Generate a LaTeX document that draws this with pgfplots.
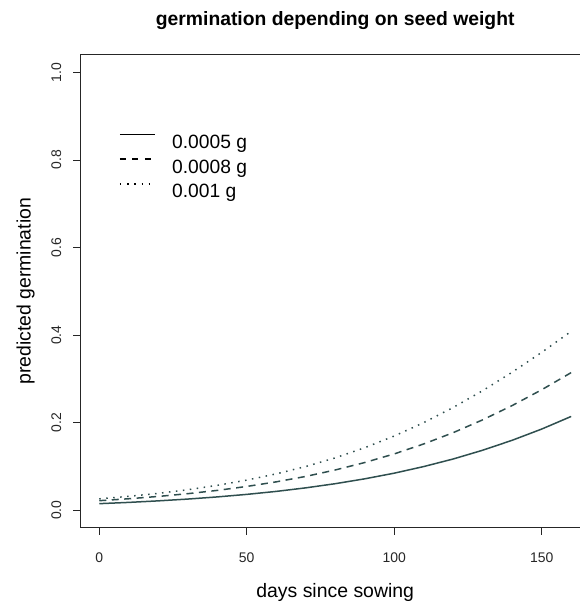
\documentclass[border=0pt]{standalone}
\usepackage{fontspec}
\setmainfont{Liberation Sans}
\usepackage{pgfplots}
\usepackage{pgfplotstable}
\pgfplotsset{compat=1.18}
\definecolor{dsg}{HTML}{2F4F4F}

\pgfplotstableread{
x y
0 0.0151
10 0.0180
20 0.0215
30 0.0256
40 0.0305
50 0.0363
60 0.0431
70 0.0512
80 0.0607
90 0.0718
100 0.0847
110 0.0998
120 0.1171
130 0.1371
140 0.1598
150 0.1854
160 0.2142
}\lowW

\pgfplotstableread{
x y
0 0.0219
10 0.0263
20 0.0316
30 0.0379
40 0.0454
50 0.0544
60 0.0649
70 0.0773
80 0.0920
90 0.1090
100 0.1287
110 0.1514
120 0.1772
130 0.2065
140 0.2391
150 0.2751
160 0.3143
}\midW

\pgfplotstableread{
x y
0 0.0261
10 0.0318
20 0.0387
30 0.0469
40 0.0569
50 0.0689
60 0.0831
70 0.0999
80 0.1197
90 0.1428
100 0.1695
110 0.2001
120 0.2347
130 0.2731
140 0.3152
150 0.3605
160 0.4085
}\highW

\begin{document}
\begin{tikzpicture}
\begin{axis}[
  at={(80.4bp,78.2bp)}, anchor=south west,
  scale only axis, width=509.6bp, height=473bp,
  xmin=-6.4, xmax=166.4, ymin=-0.04, ymax=1.04,
  axis line style={black!85, line width=0.8bp},
  xtick={0,50,100,150},
  ytick={0,0.2,0.4,0.6,0.8,1.0},
  xtick pos=left, ytick pos=left,
  tick align=outside, major tick length=7bp,
  tick style={black!85, line width=0.8bp},
  minor tick num=0,
  ticklabel style={font=\fontsize{14}{16}\selectfont, text=black!85, inner sep=0pt},
  yticklabel style={rotate=90, anchor=south, /pgf/number format/.cd, fixed, fixed zerofill, precision=1},
  xticklabel style={anchor=north},
  xticklabel shift=17.5bp, yticklabel shift=12bp,
  /pgf/number format/assume math mode=true,
  scaled ticks=false,
  xlabel={days since sowing},
  ylabel={predicted germination},
  xlabel style={at={(axis description cs:0.5,-0.1484)}, anchor=base, font=\fontsize{19.5}{22}\selectfont, inner sep=0pt},
  ylabel style={at={(axis description cs:-0.0979,0.5)}, rotate=0, anchor=base, font=\fontsize{19.5}{22}\selectfont, inner sep=0pt},
  every axis title shift=0pt,
  title={germination depending on seed weight},
  title style={at={(axis description cs:0.5,1.0628)}, anchor=base, font=\bfseries\fontsize{19.4}{22}\selectfont, inner sep=0pt},
  legend style={at={(axis description cs:0.0757,0.834)}, anchor=north west, draw=none, fill=none, inner sep=0pt,
    nodes={inner sep=0pt, text height=14bp, text depth=4bp, font=\fontsize{19.3}{22}\selectfont},
    row sep=6bp, column sep=0pt},
  legend cell align=left,
  legend image code/.code={\draw[#1] (0bp,9bp) -- (35bp,9bp); \path (51.5bp,9bp);},
]
\addplot[dsg, line width=1.5bp, forget plot] table[x=x,y=y] {\lowW};
\addplot[dsg, line width=1.5bp, dash pattern=on 7bp off 5.5bp, forget plot] table[x=x,y=y] {\midW};
\addplot[dsg, line width=1.5bp, dash pattern=on 1.5bp off 5.5bp, forget plot] table[x=x,y=y] {\highW};
\addlegendimage{black, line width=1.5bp}
\addlegendentry{0.0005 g}
\addlegendimage{black, line width=1.5bp, dash pattern=on 6bp off 6.5bp}
\addlegendentry{0.0008 g}
\addlegendimage{black, line width=1.5bp, dash pattern=on 1.5bp off 5.7bp}
\addlegendentry{0.001 g}
\end{axis}
\pgfresetboundingbox
\useasboundingbox (0,0) rectangle (580bp,606bp);
\end{tikzpicture}
\end{document}
